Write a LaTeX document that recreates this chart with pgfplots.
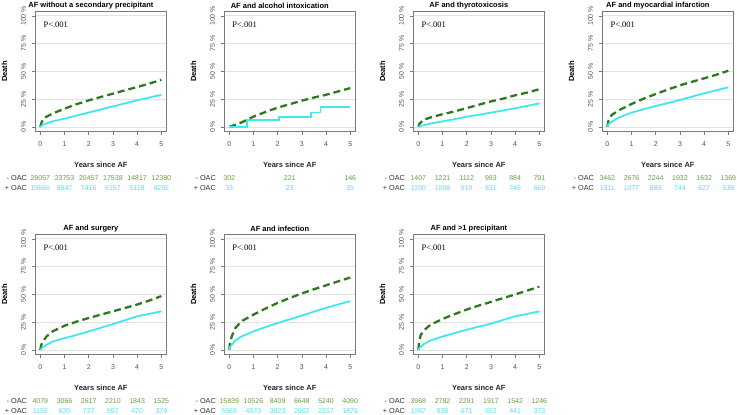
\documentclass[border=0pt]{standalone}
\usepackage{pgfplots}
\pgfplotsset{compat=1.18}
\usepackage{fontspec}
\setmainfont{Liberation Sans}
\newfontfamily\seriffont{Liberation Serif}
\definecolor{dgreen}{HTML}{2D7A1E}
\definecolor{cyanline}{HTML}{40E8EC}
\definecolor{tgreen}{HTML}{6A9E3A}
\definecolor{tcyan}{HTML}{4FE3E8}
\definecolor{boxgray}{HTML}{7A7A7A}
\definecolor{gridgray}{HTML}{E3E3E3}
\definecolor{ticklab}{HTML}{555555}
\pgfplotsset{
  km/.style={
    scale only axis, width=130.7pt, height=119.9pt, anchor=south west,
    xmin=-0.2, xmax=5.2, ymin=-0.04, ymax=1.04,
    xtick={0,1,2,3,4,5}, xticklabels={0,1,2,3,4,5},
    ytick={0,0.25,0.5,0.75,1}, yticklabels={0 \%,25 \%,50 \%,75 \%,100 \%},
    ymajorgrids, grid style={draw=gridgray, line width=0.9pt},
    axis line style={draw=boxgray, line width=0.7pt},
    tick style={draw=boxgray, line width=0.6pt},
    tick align=outside, major tick length=3.5pt,
    xtick pos=lower, ytick pos=left,
    tick label style={font=\fontsize{7}{8}\selectfont, text=ticklab},
    yticklabel style={rotate=90, anchor=south},
    xticklabel shift=3.5pt, yticklabel shift=2.5pt,
    clip=false,
  },
  dashline/.style={dgreen, line width=2.3pt, dash pattern=on 7pt off 4pt},
  cyline/.style={cyanline, line width=1.8pt},
}
\newcommand{\panel}[4]{% name, title, minus list, plus list
  \node[font=\bfseries\fontsize{7.5}{9}\selectfont, anchor=center] at ([xshift=-10pt,yshift=6pt]#1.north) {#2};
  \node[font=\seriffont\fontsize{8.5}{10}\selectfont, anchor=west] at ([xshift=4.5pt,yshift=-13.4pt]#1.north west) {P<.001};
  \node[font=\bfseries\fontsize{7.5}{9}\selectfont, rotate=90, anchor=center] at ([xshift=-31pt]#1.west) {Death};
  \node[font=\bfseries\fontsize{7.5}{9}\selectfont, anchor=center, text=black!85] at ([yshift=-33pt]#1.south) {Years since AF};
  \node[font=\fontsize{7.3}{8}\selectfont, anchor=east, text=black!80] at ([xshift=-5pt,yshift=-47pt]#1.south west) {- OAC};
  \node[font=\fontsize{7.3}{8}\selectfont, anchor=east, text=black!80] at ([xshift=-5pt,yshift=-56.4pt]#1.south west) {+ OAC};
  \foreach \x/\n in {#3} \node[font=\fontsize{7}{8}\selectfont, text=tgreen, anchor=center] at ([xshift=4.84pt+\x*24.2pt, yshift=-47pt]#1.south west) {\n};
  \foreach \x/\n in {#4} \node[font=\fontsize{7}{8}\selectfont, text=tcyan, anchor=center] at ([xshift=4.84pt+\x*24.2pt, yshift=-56.4pt]#1.south west) {\n};
}
\begin{document}
\begin{tikzpicture}
\path[use as bounding box] (0,0) rectangle (737pt,415pt);
% ---- top row
\begin{axis}[km, name=p1, at={(35.5pt,283.6pt)}]
\addplot[dashline] coordinates {(0,0) (0.05,0.04) (0.15,0.08) (0.5,0.12) (1,0.165) (1.5,0.205) (2,0.24) (2.5,0.27) (3,0.30) (3.5,0.33) (4,0.36) (4.5,0.39) (5,0.425)};
\addplot[cyline] coordinates {(0,0) (0.1,0.02) (0.5,0.05) (1,0.075) (2,0.13) (3,0.185) (4,0.24) (5,0.29)};
\end{axis}
\begin{axis}[km, name=p2, at={(224.4pt,283.6pt)}]
\addplot[dashline] coordinates {(0,0) (0.5,0.04) (1,0.093) (1.5,0.135) (2,0.174) (2.5,0.205) (3,0.237) (3.5,0.265) (4,0.29) (4.5,0.32) (5,0.35)};
\addplot[cyline, const plot] coordinates {(0,0) (0.74,0.06) (2.05,0.093) (3.39,0.13) (3.77,0.177) (5,0.177)};
\end{axis}
\begin{axis}[km, name=p3, at={(413.5pt,283.6pt)}]
\addplot[dashline] coordinates {(0,0) (0.05,0.03) (0.2,0.063) (0.5,0.085) (1,0.115) (1.5,0.14) (2,0.17) (2.5,0.20) (3,0.23) (3.5,0.255) (4,0.285) (4.5,0.31) (5,0.34)};
\addplot[cyline] coordinates {(0,0) (0.1,0.01) (0.5,0.03) (1,0.05) (1.5,0.07) (2,0.093) (2.5,0.11) (3,0.129) (3.5,0.148) (4,0.168) (4.5,0.19) (5,0.213)};
\end{axis}
\begin{axis}[km, name=p4, at={(602.5pt,283.6pt)}]
\addplot[dashline] coordinates {(0,0) (0.05,0.06) (0.18,0.108) (0.5,0.153) (1,0.207) (1.5,0.255) (2,0.297) (2.5,0.337) (3,0.375) (3.5,0.407) (4,0.438) (4.5,0.47) (5,0.507)};
\addplot[cyline] coordinates {(0,0) (0.05,0.025) (0.25,0.057) (0.5,0.087) (1,0.129) (1.5,0.16) (2,0.189) (2.5,0.215) (3,0.243) (3.5,0.273) (4,0.303) (4.5,0.33) (5,0.357)};
\end{axis}
% ---- bottom row
\begin{axis}[km, name=p5, at={(35.5pt,60.6pt)}]
\addplot[dashline] coordinates {(0,0) (0.03,0.04) (0.1,0.076) (0.25,0.12) (0.5,0.167) (1,0.218) (1.5,0.255) (2,0.288) (2.5,0.318) (3,0.348) (3.5,0.378) (4,0.409) (4.5,0.445) (5,0.485)};
\addplot[cyline] coordinates {(0,0) (0.1,0.025) (0.25,0.045) (0.5,0.076) (1,0.106) (1.5,0.135) (2,0.167) (2.5,0.2) (3,0.233) (3.5,0.268) (4,0.303) (4.5,0.325) (5,0.348)};
\end{axis}
\begin{axis}[km, name=p6, at={(224.4pt,60.6pt)}]
\addplot[dashline] coordinates {(0,0) (0.03,0.06) (0.1,0.12) (0.25,0.197) (0.5,0.258) (1,0.318) (1.5,0.373) (2,0.424) (2.5,0.468) (3,0.509) (3.5,0.547) (4,0.582) (4.5,0.618) (5,0.652)};
\addplot[cyline] coordinates {(0,0) (0.03,0.025) (0.1,0.045) (0.25,0.085) (0.5,0.121) (1,0.167) (1.5,0.206) (2,0.242) (2.5,0.276) (3,0.309) (3.5,0.345) (4,0.379) (4.5,0.41) (5,0.439)};
\end{axis}
\begin{axis}[km, name=p7, at={(413.5pt,60.6pt)}]
\addplot[dashline] coordinates {(0,0) (0.03,0.07) (0.1,0.136) (0.25,0.18) (0.5,0.227) (1,0.279) (1.5,0.323) (2,0.364) (2.5,0.4) (3,0.433) (3.5,0.467) (4,0.5) (4.5,0.535) (5,0.57)};
\addplot[cyline] coordinates {(0,0) (0.05,0.02) (0.25,0.055) (0.5,0.085) (1,0.121) (1.5,0.152) (2,0.182) (2.5,0.21) (3,0.236) (3.5,0.27) (4,0.303) (4.5,0.325) (5,0.348)};
\end{axis}
\panel{p1}{AF without a secondary precipitant}{0/29057,1/23753,2/20457,3/17538,4/14817,5/12380}{0/10666,1/8947,2/7416,3/6157,4/5118,5/4292}
\panel{p2}{AF and alcohol intoxication}{0/302,2.5/221,5/146}{0/33,2.5/23,5/15}
\panel{p3}{AF and thyrotoxicosis}{0/1407,1/1221,2/1112,3/993,4/884,5/791}{0/1100,1/1008,2/910,3/831,4/746,5/669}
\panel{p4}{AF and myocardial infarction}{0/3462,1/2676,2/2244,3/1932,4/1632,5/1369}{0/1311,1/1077,2/883,3/744,4/627,5/538}
\panel{p5}{AF and surgery}{0/4079,1/3066,2/2617,3/2210,4/1843,5/1525}{0/1150,1/920,2/727,3/597,4/470,5/379}
\panel{p6}{AF and infection}{0/15839,1/10526,2/8409,3/6648,4/5240,5/4090}{0/5985,1/4570,2/3623,3/2902,4/2317,5/1876}
\panel{p7}{AF and >1 precipitant}{0/3968,1/2782,2/2291,3/1917,4/1542,5/1246}{0/1087,1/838,2/671,3/552,4/441,5/373}
\end{tikzpicture}
\end{document}
